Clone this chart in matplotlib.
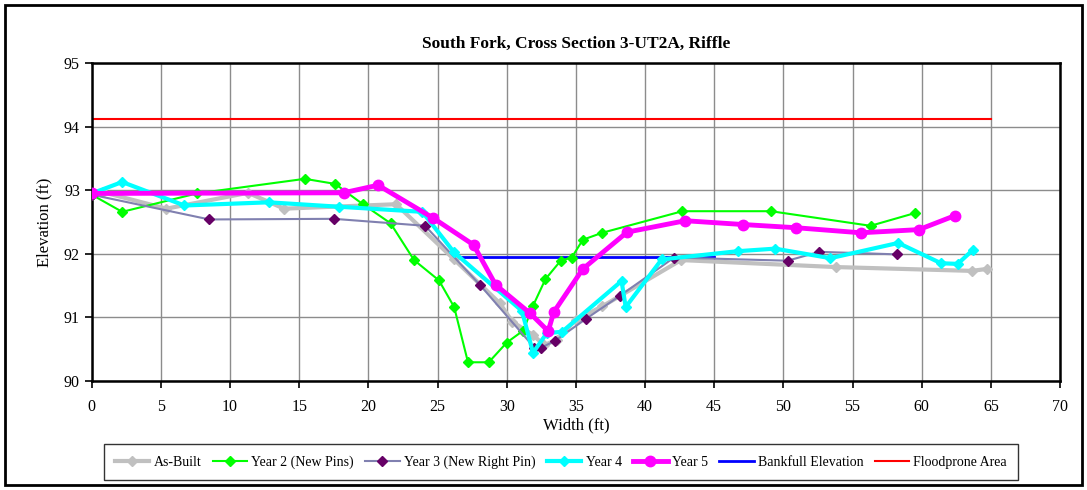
import matplotlib
matplotlib.use('Agg')
import matplotlib.pyplot as plt
from matplotlib.patches import Rectangle

plt.rcParams['font.family'] = ['Liberation Serif', 'DejaVu Serif']

# Данные сечения (ширина, отметка)
asbuilt_x = [0, 0.8, 5.4, 11.3, 13.9, 22.0, 26.2, 29.5, 30.4, 31.9, 32.7, 33.6, 35.0, 36.9, 42.6, 53.8, 63.6, 64.7]
asbuilt_y = [92.93, 92.97, 92.71, 92.96, 92.71, 92.78, 91.91, 91.22, 90.93, 90.72, 90.56, 90.64, 90.96, 91.17, 91.90, 91.79, 91.73, 91.76]

year2_x = [0, 2.2, 7.6, 15.4, 17.6, 19.6, 21.6, 23.3, 25.1, 26.2, 27.2, 28.7, 30.0, 31.2, 31.9, 32.8, 33.9, 34.7, 35.5, 36.9, 42.7, 49.1, 56.3, 59.5]
year2_y = [92.93, 92.66, 92.95, 93.18, 93.10, 92.78, 92.48, 91.90, 91.58, 91.16, 90.29, 90.29, 90.60, 90.79, 91.18, 91.60, 91.89, 91.94, 92.22, 92.33, 92.67, 92.67, 92.44, 92.64]

year3_x = [0, 8.5, 17.5, 24.1, 28.1, 32.0, 32.5, 33.5, 35.7, 38.2, 42.1, 50.3, 52.6, 58.2]
year3_y = [92.93, 92.54, 92.55, 92.44, 91.50, 90.52, 90.52, 90.63, 90.97, 91.34, 91.94, 91.89, 92.03, 91.99]

year4_x = [0, 2.2, 6.7, 12.8, 17.9, 23.9, 26.2, 31.1, 31.9, 32.9, 34.0, 38.3, 38.6, 41.2, 46.7, 49.4, 53.4, 58.3, 61.4, 62.6, 63.7]
year4_y = [92.95, 93.13, 92.76, 92.81, 92.74, 92.66, 92.02, 91.10, 90.44, 90.75, 90.77, 91.57, 91.16, 91.91, 92.04, 92.08, 91.93, 92.17, 91.85, 91.84, 92.06]

year5_x = [0, 18.2, 20.7, 24.7, 27.6, 29.2, 31.7, 33.0, 33.4, 35.5, 38.7, 42.9, 47.1, 50.9, 55.6, 59.8, 62.4]
year5_y = [92.95, 92.96, 93.08, 92.56, 92.14, 91.51, 91.06, 90.78, 91.08, 91.76, 92.34, 92.52, 92.46, 92.41, 92.33, 92.38, 92.60]

bankfull_x = [26.25, 45.0]
bankfull_y = [91.95, 91.95]

floodprone_x = [0, 65]
floodprone_y = [94.13, 94.13]

fig = plt.figure(figsize=(10.87, 4.9), dpi=100)
ax = fig.add_axes([0.0844, 0.2231, 0.8908, 0.6477])

ax.plot(asbuilt_x, asbuilt_y, color='#c0c0c0', lw=3, marker='D', ms=5, label='As-Built', zorder=3)
ax.plot(year2_x, year2_y, color='#00ff00', lw=1.5, marker='D', ms=5.5, label='Year 2 (New Pins)', zorder=4)
ax.plot(year3_x, year3_y, color='#8080b0', lw=1.5, marker='D', ms=5.5, mfc='#660066', mec='#660066',
        label='Year 3 (New Right Pin)', zorder=4)
ax.plot(year4_x, year4_y, color='#00ffff', lw=3, marker='D', ms=5.5, label='Year 4', zorder=5)
ax.plot(year5_x, year5_y, color='#ff00ff', lw=3.5, marker='o', ms=7.5, label='Year 5', zorder=6)
ax.plot(bankfull_x, bankfull_y, color='#0000ff', lw=2, label='Bankfull Elevation', zorder=2)
ax.plot(floodprone_x, floodprone_y, color='#ff0000', lw=1.5, label='Floodprone Area', zorder=2)

ax.set_xlim(0, 70)
ax.set_ylim(90, 95)
ax.set_xticks(range(0, 71, 5))
ax.set_yticks(range(90, 96))
ax.grid(True, color='#8c8c8c', lw=1)
ax.set_axisbelow(True)
for s in ax.spines.values():
    s.set_linewidth(1.8)
ax.tick_params(direction='out', length=5, width=1.2, labelsize=11.5)
ax.tick_params(axis='x', pad=8)

ax.set_title('South Fork, Cross Section 3-UT2A, Riffle', fontsize=12.5, fontweight='bold', pad=11)
ax.set_xlabel('Width (ft)', fontsize=12, labelpad=2)
ax.set_ylabel('Elevation (ft)', fontsize=12, labelpad=8)

leg = fig.legend(loc='center', bbox_to_anchor=(0.516, 0.057), ncol=7, fontsize=10,
                 frameon=True, fancybox=False, edgecolor='black', handlelength=2.5,
                 columnspacing=0.8, handletextpad=0.3, borderpad=0.8)
leg.get_frame().set_linewidth(1)

fig.patches.append(Rectangle((5 / 1087, 5 / 490), 1077 / 1087, 480 / 490, transform=fig.transFigure,
                             fill=False, edgecolor='black', lw=2))

fig.savefig('out.png', dpi=100)
